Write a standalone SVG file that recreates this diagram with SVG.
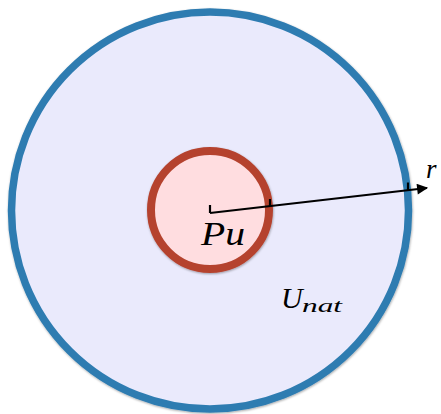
<svg xmlns="http://www.w3.org/2000/svg" width="441" height="414" viewBox="0 0 441 414">
<style>
.lbl{font-family:"Liberation Serif","DejaVu Serif",serif;font-style:italic;fill:#000}
.ln{stroke:#000;stroke-width:2.2;fill:none}
</style>
<defs>
<filter id="sh" x="-10%" y="-10%" width="120%" height="120%">
<feDropShadow dx="0.5" dy="1" stdDeviation="1" flood-color="#000" flood-opacity="0.35"/>
</filter>
<marker id="ah" viewBox="0 0 10 10" refX="9" refY="5" markerWidth="6.5" markerHeight="5" orient="auto" markerUnits="strokeWidth">
<path d="M0,0 L10,5 L0,10 z" fill="#000"/>
</marker>
</defs>
<g id="outer">
<circle cx="210" cy="210.5" r="198.5" fill="#eaeafc" stroke="#2f7cb1" stroke-width="7.5" filter="url(#sh)"/>
<text class="lbl" x="281" y="308" font-size="30">U</text>
<text class="lbl" x="302" y="312" font-size="19" textLength="40" lengthAdjust="spacingAndGlyphs">nat</text>
</g>
<g id="inner">
<circle cx="210" cy="210" r="59" fill="#ffdde0" stroke="#b5432f" stroke-width="8" filter="url(#sh)"/>
<text class="lbl" x="201" y="245" font-size="33" textLength="44" lengthAdjust="spacingAndGlyphs">Pu</text>
</g>
<g id="connectors">
<path class="ln" d="M210,205 L210,213"/>
<path class="ln" d="M210,213 L427,188" marker-end="url(#ah)"/>
<path class="ln" d="M270,199 L270,206"/>
<path class="ln" d="M408,182.5 L408,190"/>
<text class="lbl" x="426" y="178" font-size="27">r</text>
</g>
</svg>
